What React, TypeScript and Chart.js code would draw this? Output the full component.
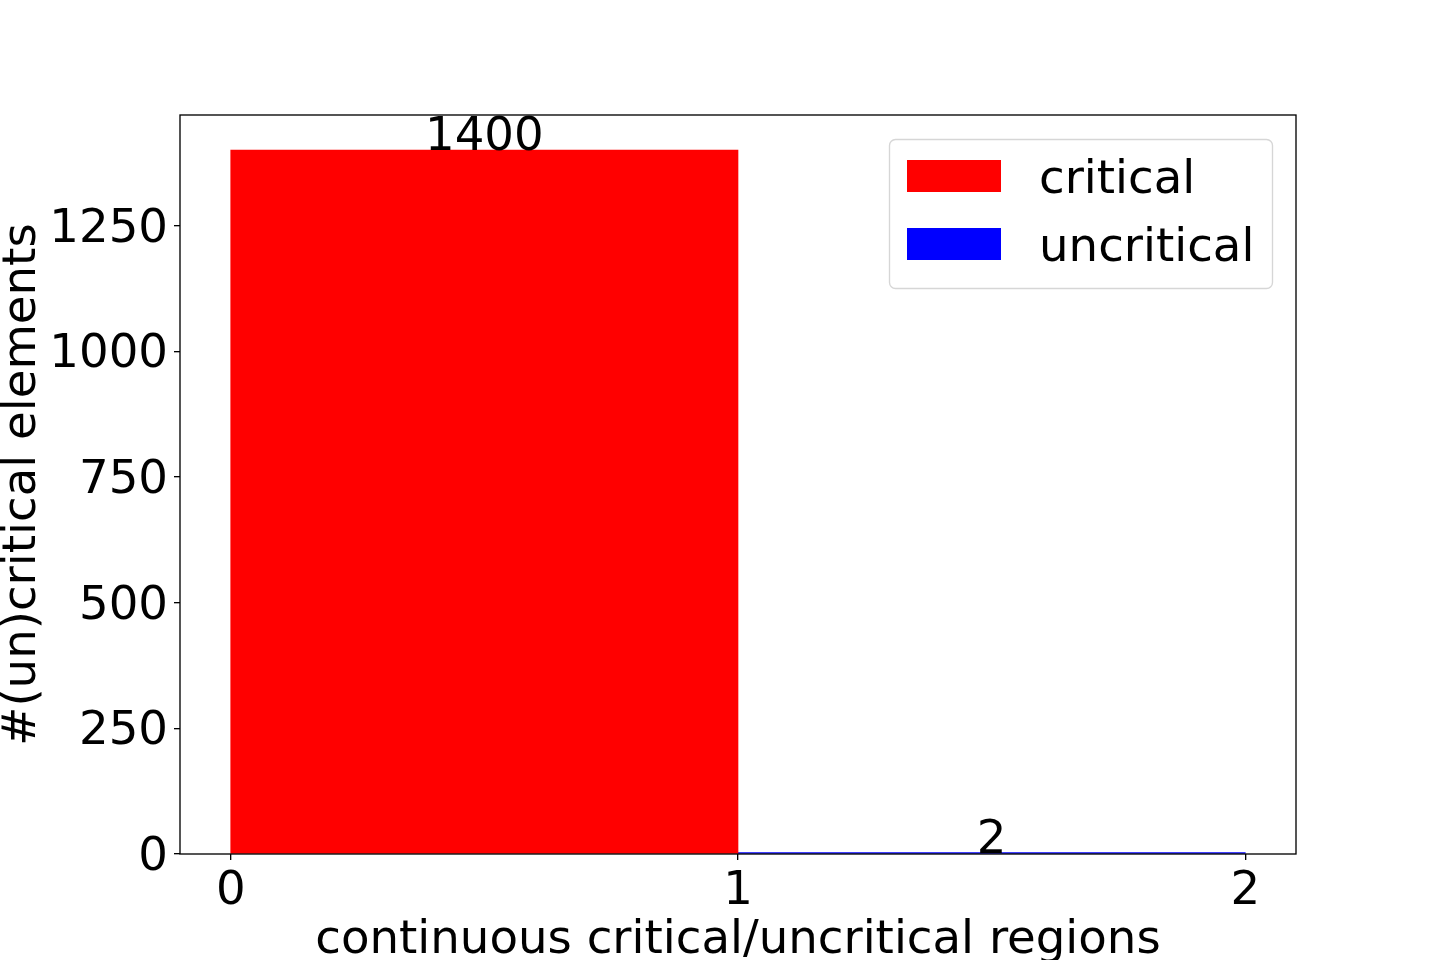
import React, { useEffect, useRef } from "react";
import { Chart, registerables } from "chart.js";

Chart.register(...registerables);

const seriesNames = ["critical", "uncritical"];
const seriesColors = ["#ff0000", "#0000ff"];
const regionCenters = [0.5, 1.5];
const criticalValues = [1400];
const uncriticalValues = [2];
const xTicks = [0, 1, 2];
const yTicks = [0, 250, 500, 750, 1000, 1250];
const xRange = [-0.1, 2.1];
const yRange = [0, 1470];
const xTitle = "continuous critical/uncritical regions";
const yTitle = "#(un)critical elements";

const FONT_FAMILY = "'DejaVu Sans', sans-serif";
const FONT_SIZE = 46.67;

const framePlugin = {
  id: "frameAndLegend",
  afterDatasetsDraw(chart: any) {
    const ctx = chart.ctx;
    ctx.save();
    ctx.fillStyle = "#000";
    ctx.font = `${FONT_SIZE}px ${FONT_FAMILY}`;
    ctx.textAlign = "center";
    ctx.textBaseline = "alphabetic";
    chart.data.datasets.forEach((ds: any, di: number) => {
      const meta = chart.getDatasetMeta(di);
      meta.data.forEach((el: any, i: number) => {
        const v = ds.data[i].y;
        ctx.fillText(String(v), el.x, el.y);
      });
    });
    ctx.restore();
  },
  afterDraw(chart: any) {
    const ctx = chart.ctx;
    const a = chart.chartArea;
    ctx.save();
    ctx.strokeStyle = "#000";
    ctx.lineWidth = 1.33;
    ctx.strokeRect(a.left, a.top, a.right - a.left, a.bottom - a.top);

    // legend
    const lx = 889.5, ly = 139.5, lw = 383, lh = 149, r = 6;
    ctx.beginPath();
    ctx.moveTo(lx + r, ly);
    ctx.arcTo(lx + lw, ly, lx + lw, ly + lh, r);
    ctx.arcTo(lx + lw, ly + lh, lx, ly + lh, r);
    ctx.arcTo(lx, ly + lh, lx, ly, r);
    ctx.arcTo(lx, ly, lx + lw, ly, r);
    ctx.closePath();
    ctx.fillStyle = "rgba(255,255,255,0.8)";
    ctx.fill();
    ctx.strokeStyle = "#d6d6d6";
    ctx.lineWidth = 1.33;
    ctx.stroke();

    ctx.font = `${FONT_SIZE}px ${FONT_FAMILY}`;
    ctx.textAlign = "left";
    ctx.textBaseline = "alphabetic";
    chart.data.datasets.forEach((ds: any, i: number) => {
      ctx.fillStyle = ds.backgroundColor;
      ctx.fillRect(907, 160 + i * 68, 94, 32);
      ctx.fillStyle = "#000";
      ctx.fillText(ds.label, 1039, 193 + i * 68);
    });
    ctx.restore();
  },
};

export default function App() {
  const ref = useRef<HTMLCanvasElement>(null);

  useEffect(() => {
    if (!ref.current) return;
    const font = { family: FONT_FAMILY, size: FONT_SIZE };
    const chart = new Chart(ref.current, {
      type: "bar",
      data: {
        datasets: [
          {
            label: seriesNames[0],
            data: criticalValues.map((v) => ({ x: regionCenters[0], y: v })),
            backgroundColor: seriesColors[0],
            borderWidth: 0,
            grouped: false,
            barPercentage: 1,
            categoryPercentage: 1,
          } as any,
          {
            label: seriesNames[1],
            data: uncriticalValues.map((v) => ({ x: regionCenters[1], y: v })),
            backgroundColor: seriesColors[1],
            borderWidth: 0,
            grouped: false,
            barPercentage: 1,
            categoryPercentage: 1,
            minBarLength: 1.5,
          } as any,
        ],
      },
      options: {
        animation: false,
        responsive: false,
        maintainAspectRatio: false,
        layout: { padding: { left: 0, right: 144, top: 115, bottom: 0 } },
        plugins: {
          legend: { display: false },
          tooltip: { enabled: false },
        },
        scales: {
          x: {
            type: "linear",
            min: xRange[0],
            max: xRange[1],
            offset: false,
            grid: {
              offset: false,
              drawOnChartArea: false,
              drawTicks: true,
              tickLength: 6,
              color: "#000",
              lineWidth: 1.33,
            },
            border: { display: false },
            ticks: {
              font,
              color: "#000",
              padding: 4,
              maxRotation: 0,
              includeBounds: false,
              callback: (v: any) => String(v),
            },
            title: {
              display: true,
              text: xTitle,
              font: { ...font, lineHeight: 1 },
              color: "#000",
              padding: { top: 0, bottom: -4 },
            },
            afterBuildTicks: (scale: any) => {
              scale.ticks = xTicks.map((v) => ({ value: v }));
            },
            afterFit: (scale: any) => {
              scale.height = 106;
            },
          },
          y: {
            type: "linear",
            min: yRange[0],
            max: yRange[1],
            grid: {
              drawOnChartArea: false,
              drawTicks: true,
              tickLength: 6,
              color: "#000",
              lineWidth: 1.33,
            },
            border: { display: false },
            ticks: {
              font,
              color: "#000",
              padding: 6,
              labelOffset: 4,
              includeBounds: false,
              callback: (v: any) => String(v),
            },
            title: {
              display: true,
              text: yTitle,
              font: { ...font, lineHeight: 1 },
              color: "#000",
              padding: { top: 0, bottom: 0 },
            },
            afterBuildTicks: (scale: any) => {
              scale.ticks = yTicks.map((v) => ({ value: v }));
            },
            afterFit: (scale: any) => {
              scale.width = 180;
            },
          },
        },
      } as any,
      plugins: [framePlugin],
    });
    return () => chart.destroy();
  }, []);

  return (
    <div style={{ position: "absolute", left: 0, top: 0, width: 1440, height: 960, background: "#fff" }}>
      <canvas ref={ref} width={1440} height={960} style={{ display: "block" }} />
    </div>
  );
}
